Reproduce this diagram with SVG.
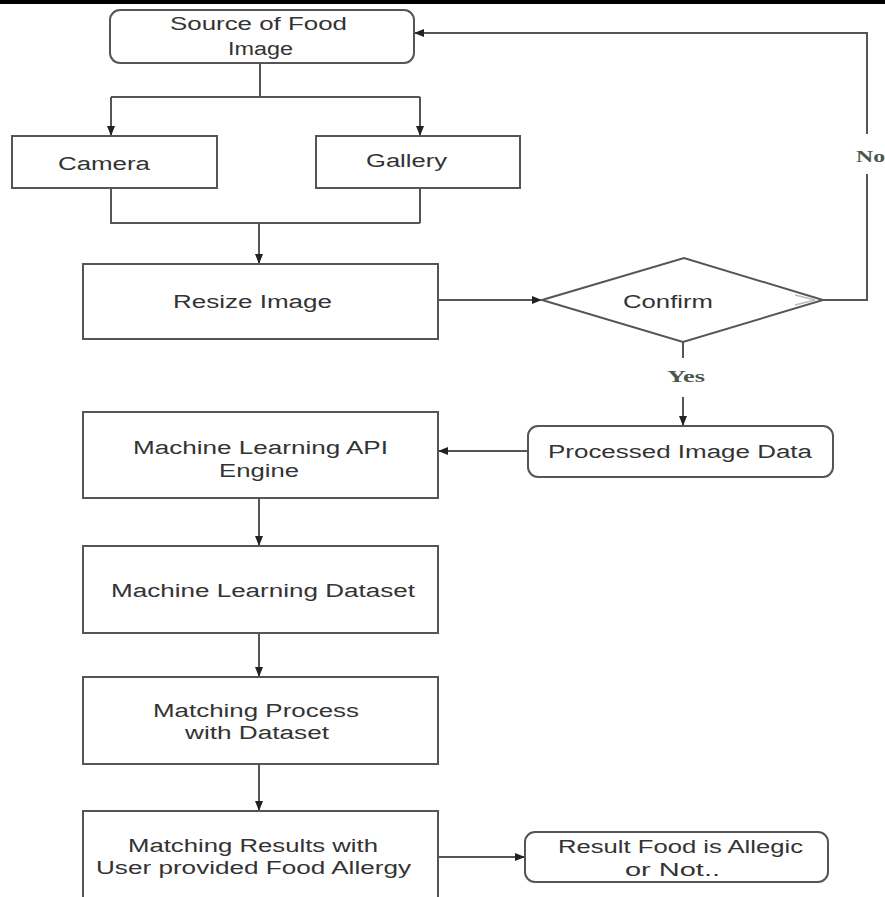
<svg xmlns="http://www.w3.org/2000/svg" width="885" height="897" viewBox="0 0 885 897">
<defs>
<marker id="ah" markerWidth="10" markerHeight="10" refX="9" refY="5" orient="auto" markerUnits="userSpaceOnUse">
<path d="M0,1 L10,5 L0,9 Z" fill="#222"/>
</marker>
<style>
.box{fill:#fff;stroke:#555;stroke-width:2}
.t{font-family:"Liberation Sans",Arial,sans-serif;font-size:18px;fill:#333;text-anchor:middle}
.lbl{font-family:"Liberation Serif","Times New Roman",serif;font-size:16px;font-weight:bold;fill:#4a574a}
.c{fill:none;stroke:#555;stroke-width:2}
</style>
</defs>
<rect x="0" y="0" width="885" height="897" fill="#fff"/>
<rect x="0" y="0" width="885" height="4" fill="#000"/>

<g id="connectors">
<path class="c" d="M260,63 V97 M111,97 H420"/>
<path class="c" d="M111,97 V135" marker-end="url(#ah)"/>
<path class="c" d="M420,97 V135" marker-end="url(#ah)"/>
<path class="c" d="M111,188 V223 H420 M420,188 V223"/>
<path class="c" d="M259,223 V263" marker-end="url(#ah)"/>
<path class="c" d="M438,300 H541" marker-end="url(#ah)"/>
<path class="c" d="M823,300 H867 V174 M867,134 V33 H415" marker-end="url(#ah)"/>
<path class="c" d="M683,342 V358"/>
<path class="c" d="M683,397 V425" marker-end="url(#ah)"/>
<path class="c" d="M528,451 H439" marker-end="url(#ah)"/>
<path class="c" d="M259,498 V545" marker-end="url(#ah)"/>
<path class="c" d="M259,633 V676" marker-end="url(#ah)"/>
<path class="c" d="M259,764 V810" marker-end="url(#ah)"/>
<path class="c" d="M438,857 H524" marker-end="url(#ah)"/>
<text class="lbl" x="686" y="382" text-anchor="middle" textLength="38" lengthAdjust="spacingAndGlyphs">Yes</text>
<text class="lbl" x="856" y="162" textLength="29" lengthAdjust="spacingAndGlyphs">No</text>
</g>

<g id="source">
<rect class="box" x="110" y="10" width="304" height="53" rx="10"/>
<text class="t" x="258.5" y="30" textLength="177" lengthAdjust="spacingAndGlyphs">Source of Food</text>
<text class="t" x="260.5" y="55" textLength="65" lengthAdjust="spacingAndGlyphs">Image</text>
</g>
<g id="camera">
<rect class="box" x="12" y="136" width="205" height="52"/>
<text class="t" x="104" y="170" textLength="92" lengthAdjust="spacingAndGlyphs">Camera</text>
</g>
<g id="gallery">
<rect class="box" x="316" y="136" width="204" height="52"/>
<text class="t" x="406.5" y="167" textLength="81" lengthAdjust="spacingAndGlyphs">Gallery</text>
</g>
<g id="resize">
<rect class="box" x="83" y="264" width="355" height="75"/>
<text class="t" x="252.5" y="308" textLength="159" lengthAdjust="spacingAndGlyphs">Resize Image</text>
</g>
<g id="confirm">
<polygon class="box" points="542,300 684,258 823,300 683,342"/>
<polyline points="795,295 815,300 795,305" fill="none" stroke="#bbb" stroke-width="1.5"/>
<text class="t" x="668" y="308" textLength="90" lengthAdjust="spacingAndGlyphs">Confirm</text>
</g>
<g id="processed">
<rect class="box" x="528" y="426" width="305" height="51" rx="10"/>
<text class="t" x="680" y="458" textLength="264" lengthAdjust="spacingAndGlyphs">Processed Image Data</text>
</g>
<g id="mlapi">
<rect class="box" x="83" y="412" width="355" height="86"/>
<text class="t" x="260.5" y="454" textLength="255" lengthAdjust="spacingAndGlyphs">Machine Learning API</text>
<text class="t" x="259" y="477" textLength="80" lengthAdjust="spacingAndGlyphs">Engine</text>
</g>
<g id="mldataset">
<rect class="box" x="83" y="546" width="355" height="87"/>
<text class="t" x="263" y="597" textLength="304" lengthAdjust="spacingAndGlyphs">Machine Learning Dataset</text>
</g>
<g id="matching">
<rect class="box" x="83" y="677" width="355" height="87"/>
<text class="t" x="256" y="717" textLength="206" lengthAdjust="spacingAndGlyphs">Matching Process</text>
<text class="t" x="257" y="739" textLength="144" lengthAdjust="spacingAndGlyphs">with Dataset</text>
</g>
<g id="results">
<rect class="box" x="83" y="811" width="355" height="92"/>
<text class="t" x="253" y="852" textLength="250" lengthAdjust="spacingAndGlyphs">Matching Results with</text>
<text class="t" x="253.5" y="874" textLength="315" lengthAdjust="spacingAndGlyphs">User provided Food Allergy</text>
</g>
<g id="allergic">
<rect class="box" x="525" y="832" width="303" height="50" rx="10"/>
<text class="t" x="680.5" y="853" textLength="245" lengthAdjust="spacingAndGlyphs">Result Food is Allegic</text>
<text class="t" x="672.5" y="876" textLength="95" lengthAdjust="spacingAndGlyphs">or Not..</text>
</g>
</svg>
